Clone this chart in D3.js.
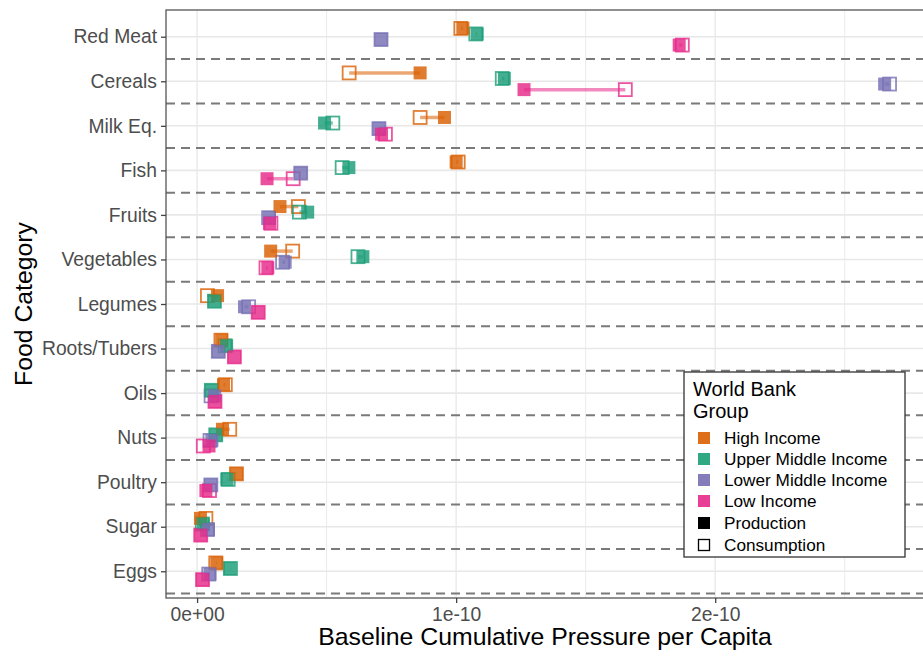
<!DOCTYPE html>
<html>
<head>
<meta charset="utf-8">
<script src="https://cdn.jsdelivr.net/npm/d3@7"></script>
<style>
	body { margin: 0; background: #fff; }
	svg { display: block; font-family: 'Liberation Sans', Arial, sans-serif; }
</style>
</head>
<body>
<svg id="chart" width="923" height="658"></svg>
<script>
var categories = ['Red Meat', 'Cereals', 'Milk Eq.', 'Fish', 'Fruits', 'Vegetables', 'Legumes',
	'Roots/Tubers', 'Oils', 'Nuts', 'Poultry', 'Sugar', 'Eggs'];
var groups = ['High Income', 'Upper Middle Income', 'Lower Middle Income', 'Low Income'];

// values in units of 1e-10, same order as categories
var highProd = [1.026, 0.861, 0.955, 1.000, 0.320, 0.284, 0.079, 0.095, 0.102, 0.098, 0.152, 0.013, 0.076];
var highCons = [1.018, 0.587, 0.861, 1.008, 0.391, 0.369, 0.040, 0.092, 0.109, 0.126, 0.152, 0.034, 0.072];
var upperProd = [1.081, 1.186, 0.492, 0.586, 0.427, 0.640, 0.067, 0.114, 0.055, 0.072, 0.115, 0.024, 0.127];
var upperCons = [1.076, 1.178, 0.524, 0.560, 0.395, 0.621, 0.067, 0.108, 0.055, 0.072, 0.120, 0.020, 0.129];
var lowerProd = [0.710, 2.654, 0.702, 0.400, 0.279, 0.340, 0.183, 0.082, 0.068, 0.057, 0.053, 0.044, 0.050];
var lowerCons = [0.710, 2.673, 0.702, 0.400, 0.276, 0.330, 0.199, 0.082, 0.054, 0.050, 0.053, 0.040, 0.045];
var lowProd = [1.861, 1.262, 0.712, 0.270, 0.280, 0.273, 0.236, 0.144, 0.069, 0.046, 0.034, 0.014, 0.021];
var lowCons = [1.873, 1.653, 0.727, 0.371, 0.285, 0.266, 0.236, 0.144, 0.069, 0.024, 0.048, 0.014, 0.021];

var xTickValues = [0, 1, 2];
var xTickLabels = ['0e+00', '1e-10', '2e-10'];
var xMinorValues = [0.5, 1.5, 2.5];

var colors = {
	'High Income': '#D95F02',
	'Upper Middle Income': '#1B9E77',
	'Lower Middle Income': '#7570B3',
	'Low Income': '#E7298A'
};

var prodByGroup = [highProd, upperProd, lowerProd, lowProd],
	consByGroup = [highCons, upperCons, lowerCons, lowCons];

var rows = [];
categories.forEach(function(c, i) {
	groups.forEach(function(g, j) {
		rows.push({ cat: c, group: g, gi: j, prod: prodByGroup[j][i], cons: consByGroup[j][i] });
	});
});

var svg = d3.select('#chart'),
	panel = { left: 166, top: 10, right: 924, bottom: 598 };

// ggplot-like 5% expansion
var ext = d3.extent(rows.flatMap(function(d) { return [d.prod, d.cons]; })),
	pad = (ext[1] - ext[0]) * 0.05;
var x = d3.scaleLinear().domain([ext[0] - pad, ext[1] + pad]).range([panel.left, panel.right]);
var y = d3.scalePoint().domain(categories).range([panel.top, panel.bottom]).padding(0.6);
var step = y.step();
var dodge = [-0.1875, -0.0625, 0.0625, 0.1875];
function yPos(d) { return y(d.cat) + dodge[d.gi] * step; }

// grid
var grid = svg.append('g');
grid.selectAll('.vminor').data(xMinorValues).enter().append('line')
	.attr('x1', x).attr('x2', x).attr('y1', panel.top).attr('y2', panel.bottom)
	.attr('stroke', '#ebebeb').attr('stroke-width', 1);
grid.selectAll('.vmajor').data(xTickValues).enter().append('line')
	.attr('x1', x).attr('x2', x).attr('y1', panel.top).attr('y2', panel.bottom)
	.attr('stroke', '#ebebeb').attr('stroke-width', 1.5);
grid.selectAll('.hmajor').data(categories).enter().append('line')
	.attr('x1', panel.left).attr('x2', panel.right).attr('y1', y).attr('y2', y)
	.attr('stroke', '#e8e8e8').attr('stroke-width', 1.6);

// dashed separators below each category
grid.selectAll('.sep').data(categories).enter().append('line')
	.attr('x1', panel.left).attr('x2', panel.right)
	.attr('y1', function(c) { return y(c) + step / 2; })
	.attr('y2', function(c) { return y(c) + step / 2; })
	.attr('stroke', '#7a7a7a').attr('stroke-width', 2).attr('stroke-dasharray', '9,6');

// segments, consumption (hollow), production (filled)
var marks = svg.append('g');
marks.selectAll('.seg').data(rows).enter().append('line')
	.attr('x1', function(d) { return x(d.cons); }).attr('x2', function(d) { return x(d.prod); })
	.attr('y1', yPos).attr('y2', yPos)
	.attr('stroke', function(d) { return colors[d.group]; })
	.attr('stroke-width', 3.5).attr('stroke-opacity', 0.55);

var sz = 13;
marks.selectAll('.cons').data(rows).enter().append('rect')
	.attr('x', function(d) { return x(d.cons) - sz / 2; })
	.attr('y', function(d) { return yPos(d) - sz / 2; })
	.attr('width', sz).attr('height', sz)
	.attr('fill', 'none')
	.attr('stroke', function(d) { return colors[d.group]; })
	.attr('stroke-width', 1.8).attr('stroke-opacity', 0.8);

marks.selectAll('.prod').data(rows).enter().append('rect')
	.attr('x', function(d) { return x(d.prod) - sz / 2; })
	.attr('y', function(d) { return yPos(d) - sz / 2; })
	.attr('width', sz).attr('height', sz)
	.attr('fill', function(d) { return colors[d.group]; })
	.attr('fill-opacity', 0.82);

// panel border
svg.append('rect')
	.attr('x', panel.left).attr('y', panel.top)
	.attr('width', panel.right - panel.left).attr('height', panel.bottom - panel.top)
	.attr('fill', 'none').attr('stroke', '#555').attr('stroke-width', 1.3);

// axes
var xAxis = d3.axisBottom(x).tickValues(xTickValues)
	.tickFormat(function(d, i) { return xTickLabels[i]; }).tickSize(5).tickPadding(4);
var gx = svg.append('g').attr('transform', 'translate(0,' + panel.bottom + ')').call(xAxis);
var yAxis = d3.axisLeft(y).tickSize(5).tickPadding(4);
var gy = svg.append('g').attr('transform', 'translate(' + panel.left + ',0)').call(yAxis);
[gx, gy].forEach(function(g) {
	g.select('.domain').remove();
	g.selectAll('.tick line').attr('stroke', '#444').attr('stroke-width', 1.3);
	g.selectAll('.tick text').attr('fill', '#4d4d4d').style('font-size', '19.3px')
		.style('font-family', "'Liberation Sans', Arial, sans-serif");
});

svg.append('text')
	.attr('x', (panel.left + panel.right) / 2).attr('y', 645)
	.attr('text-anchor', 'middle').style('font-size', '24.8px').attr('fill', '#000')
	.text('Baseline Cumulative Pressure per Capita');
svg.append('text')
	.attr('transform', 'translate(32,' + (panel.top + panel.bottom) / 2 + ') rotate(-90)')
	.attr('text-anchor', 'middle').style('font-size', '24.8px').attr('fill', '#000')
	.text('Food Category');

// legend
var lg = svg.append('g').attr('transform', 'translate(684,372)');
lg.append('rect').attr('width', 221).attr('height', 185)
	.attr('fill', '#fff').attr('stroke', '#333').attr('stroke-width', 1.3);
lg.append('text').attr('x', 9).attr('y', 24).style('font-size', '20px').text('World Bank');
lg.append('text').attr('x', 9).attr('y', 46).style('font-size', '20px').text('Group');

var items = groups.map(function(g) { return { label: g, color: colors[g], filled: true }; })
	.concat([{ label: 'Production', color: '#000', filled: true }, { label: 'Consumption', color: '#000', filled: false }]);
var itemY = [66, 87, 108, 129, 151, 173];
var li = lg.selectAll('.item').data(items).enter().append('g')
	.attr('transform', function(d, i) { return 'translate(0,' + itemY[i] + ')'; });
li.append('rect')
	.attr('x', function(d) { return d.filled ? 14 : 14.5; })
	.attr('y', function(d) { return d.filled ? -6 : -5.5; })
	.attr('width', function(d) { return d.filled ? 12 : 11; })
	.attr('height', function(d) { return d.filled ? 12 : 11; })
	.attr('fill', function(d) { return d.filled ? d.color : 'none'; })
	.attr('fill-opacity', function(d, i) { return i < 4 ? 0.9 : 1; })
	.attr('stroke', function(d) { return d.filled ? 'none' : d.color; })
	.attr('stroke-width', 1.3);
li.append('text').attr('x', 40).attr('y', 6).style('font-size', '17.2px').text(function(d) { return d.label; });
</script>
</body>
</html>
